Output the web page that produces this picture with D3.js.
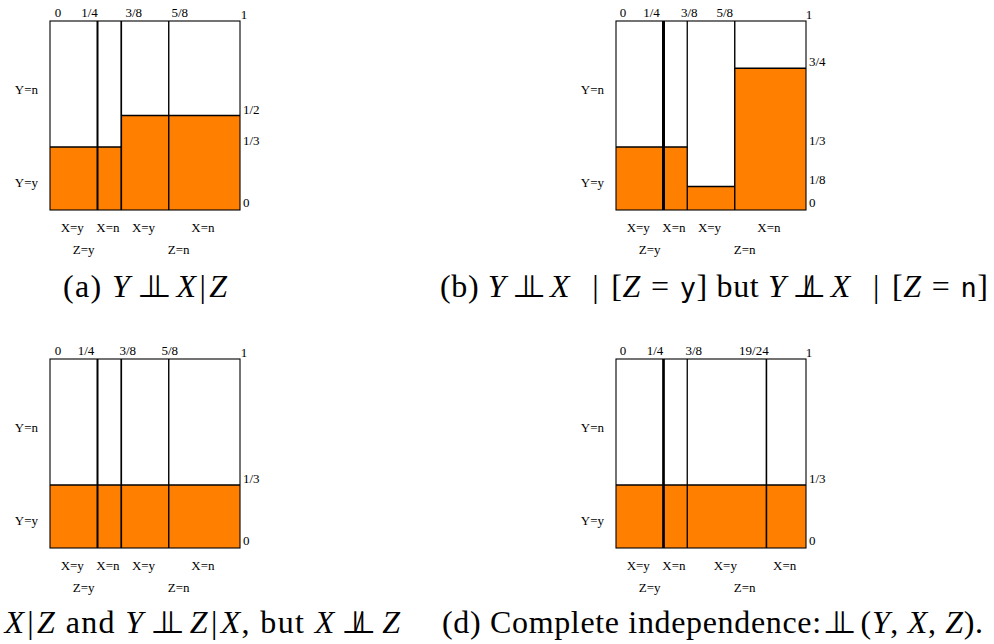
<!DOCTYPE html>
<html>
<head>
<meta charset="utf-8">
<script src="https://cdn.jsdelivr.net/npm/d3@7"></script>
<style>
    body { margin: 0; background: #fff; }
    svg text { font-family: "Liberation Serif", "Times New Roman", serif; fill: #000; }
</style>
</head>
<body>
<div id="chart"></div>
<script>

// ---- data ----
const columnBreaks = [
    [0, 1/4, 3/8, 5/8, 1],
    [0, 1/4, 3/8, 5/8, 1],
    [0, 1/4, 3/8, 5/8, 1],
    [0, 1/4, 3/8, 19/24, 1]
];
const columnTickLabels = [
    ['0', '1/4', '3/8', '5/8', '1'],
    ['0', '1/4', '3/8', '5/8', '1'],
    ['0', '1/4', '3/8', '5/8', '1'],
    ['0', '1/4', '3/8', '19/24', '1']
];
// share of Y=y inside each (X, Z) column
const yesShares = [
    [1/3, 1/3, 1/2, 1/2],
    [1/3, 1/3, 1/8, 3/4],
    [1/3, 1/3, 1/3, 1/3],
    [1/3, 1/3, 1/3, 1/3]
];
const yTickValues = [
    [0, 1/3, 1/2],
    [0, 1/8, 1/3, 3/4],
    [0, 1/3],
    [0, 1/3]
];
const yTickLabels = [
    ['0', '1/3', '1/2'],
    ['0', '1/8', '1/3', '3/4'],
    ['0', '1/3'],
    ['0', '1/3']
];
const xCategories = ['X=y', 'X=n', 'X=y', 'X=n'];
const zCategories = ['Z=y', 'Z=n'];
const zColumns = [[0, 2], [2, 4]];      // which column breaks each Z level spans
const yCategories = ['Y=n', 'Y=y'];

// ---- layout ----
const panelOrigins = [[50, 21], [616, 21], [50, 359], [616, 359]];
const tickDx = [
    [8, -8, 12.5, 11, 4],
    [7, -12, 2, -10, 3],
    [8, -11.5, 6.5, 1, 4],
    [7, -8.5, 6.5, -12.5, 3]
];
const dividerWidths = [
    [2, 1.7, 1.4],
    [3, 1.3, 1.4],
    [2, 1.7, 1.4],
    [2.7, 1.3, 1.6]
];
const yCategoryPos = [0.635, 0.143];

// captions as runs: rm = roman, it = math italic, tt = typewriter, perp / nperp = independence symbol
// a third entry is extra space (px) before the run
const captions = [
    {x: 63, y: 297, anchor: 'start', width: 164, runs: [['rm', '(a) '], ['it', 'Y'], ['perp'], ['it', 'X'], ['rm', '|', 2], ['it', 'Z', 2]]},
    {x: 440, y: 297, anchor: 'start', width: 548, runs: [['rm', '(b) '], ['it', 'Y'], ['perp'], ['it', 'X'], ['rm', '|', 22], ['rm', '[', 12], ['it', 'Z'],
        ['rm', '=', 10], ['tt', 'y', 10], ['rm', '] but '], ['it', 'Y'], ['nperp'], ['it', 'X'], ['rm', '|', 22], ['rm', '[', 12], ['it', 'Z'],
        ['rm', '=', 10], ['tt', 'n', 10], ['rm', ']']]},
    {x: 400, y: 633, anchor: 'end', width: 509, runs: [['rm', '(c) '], ['it', 'Y'], ['perp'], ['it', 'X'], ['rm', '|', 2], ['it', 'Z', 2],
        ['rm', ' and '], ['it', 'Y'], ['perp'], ['it', 'Z'], ['rm', '|', 2], ['it', 'X', 2], ['rm', ', but '], ['it', 'X'],
        ['nperp'], ['it', 'Z']]},
    {x: 442, y: 633, anchor: 'start', width: 541, runs: [['rm', '(d) Complete independence:'], ['perp', -5], ['rm', '('], ['it', 'Y'],
        ['rm', ', '], ['it', 'X'], ['rm', ', '], ['it', 'Z'], ['rm', ').']]}
];

/* * * * * * * * * * * * * *
*        MosaicPanel       *
* * * * * * * * * * * * * */

class MosaicPanel {

    constructor(svg, index) {
        this.svg = svg;
        this.index = index;
        this.orange = '#ff7f00';

        this.initVis();
    }

    initVis() {
        let vis = this;

        vis.width = 190;
        vis.height = 189;

        vis.g = vis.svg.append('g')
            .attr('transform', `translate(${panelOrigins[vis.index][0]}, ${panelOrigins[vis.index][1]})`);

        vis.x = d3.scaleLinear().domain([0, 1]).range([0, vis.width]);
        vis.y = d3.scaleLinear().domain([0, 1]).range([vis.height, 0]);

        vis.wrangleData();
    }

    wrangleData() {
        let vis = this;
        let breaks = columnBreaks[vis.index];

        vis.cells = xCategories.map((label, i) => ({
            x0: breaks[i],
            x1: breaks[i + 1],
            share: yesShares[vis.index][i],
            label: label
        }));

        vis.updateVis();
    }

    updateVis() {
        let vis = this;
        let breaks = columnBreaks[vis.index];

        // orange part (Y=y)
        vis.g.selectAll('.yes')
            .data(vis.cells)
            .enter().append('rect')
            .attr('class', 'yes')
            .attr('x', d => vis.x(d.x0))
            .attr('width', d => vis.x(d.x1) - vis.x(d.x0))
            .attr('y', d => vis.y(d.share))
            .attr('height', d => vis.y(0) - vis.y(d.share))
            .attr('fill', vis.orange);

        // boundary between Y=y and Y=n
        vis.g.selectAll('.split')
            .data(vis.cells)
            .enter().append('line')
            .attr('class', 'split')
            .attr('x1', d => vis.x(d.x0))
            .attr('x2', d => vis.x(d.x1))
            .attr('y1', d => vis.y(d.share))
            .attr('y2', d => vis.y(d.share))
            .attr('stroke', '#000')
            .attr('stroke-width', 1.5);

        // outer frame
        vis.g.append('rect')
            .attr('x', vis.x(0)).attr('y', vis.y(1))
            .attr('width', vis.x(1) - vis.x(0))
            .attr('height', vis.y(0) - vis.y(1))
            .attr('fill', 'none')
            .attr('stroke', '#000')
            .attr('stroke-width', 1.1);

        // column dividers
        vis.g.selectAll('.divider')
            .data(breaks.slice(1, -1))
            .enter().append('line')
            .attr('class', 'divider')
            .attr('x1', d => vis.x(d)).attr('x2', d => vis.x(d))
            .attr('y1', vis.y(0)).attr('y2', vis.y(1))
            .attr('stroke', '#000')
            .attr('stroke-width', (d, i) => dividerWidths[vis.index][i]);

        // top tick labels
        vis.g.selectAll('.xtick')
            .data(columnTickLabels[vis.index])
            .enter().append('text')
            .attr('class', 'xtick')
            .attr('x', (d, i) => vis.x(breaks[i]) + tickDx[vis.index][i])
            .attr('y', (d, i) => vis.y(1) - (i === breaks.length - 1 ? 2 : 4))
            .attr('text-anchor', 'middle')
            .attr('font-size', 13)
            .text(d => d);

        // right tick labels
        vis.g.selectAll('.ytick')
            .data(yTickValues[vis.index])
            .enter().append('text')
            .attr('class', 'ytick')
            .attr('x', vis.x(1) + 3)
            .attr('y', d => vis.y(d) - (d === 0 ? 3 : 2))
            .attr('font-size', 13)
            .text((d, i) => yTickLabels[vis.index][i]);

        // Y categories on the left
        vis.g.selectAll('.ycat')
            .data(yCategories)
            .enter().append('text')
            .attr('class', 'ycat')
            .attr('x', vis.x(0) - 12)
            .attr('y', (d, i) => vis.y(yCategoryPos[i]) + 4.5)
            .attr('text-anchor', 'end')
            .attr('font-size', 13)
            .text(d => d);

        // X categories below
        vis.g.selectAll('.xcat')
            .data(vis.cells)
            .enter().append('text')
            .attr('class', 'xcat')
            .attr('x', d => vis.x((d.x0 + d.x1) / 2) - 1.5)
            .attr('y', vis.y(0) + 21.5)
            .attr('text-anchor', 'middle')
            .attr('font-size', 13)
            .text(d => d.label);

        // Z categories below
        vis.g.selectAll('.zcat')
            .data(zCategories)
            .enter().append('text')
            .attr('class', 'zcat')
            .attr('x', (d, i) => vis.x((breaks[zColumns[i][0]] + breaks[zColumns[i][1]]) / 2) - 2)
            .attr('y', vis.y(0) + 44)
            .attr('text-anchor', 'middle')
            .attr('font-size', 13)
            .text(d => d);
    }
}

let svg = d3.select('#chart').append('svg')
    .attr('width', 994)
    .attr('height', 644);

columnBreaks.forEach((b, i) => new MosaicPanel(svg, i));

// captions, with TeX-like spacing around the independence symbol
captions.forEach(c => {
    let t = svg.append('text')
        .attr('x', c.x)
        .attr('y', c.y)
        .attr('text-anchor', c.anchor)
        .attr('font-size', 32)
        .style('white-space', 'pre');

    let pending = 0;
    c.runs.forEach(r => {
        if (r[0] === 'perp' || r[0] === 'nperp') {
            let p1 = t.append('tspan').attr('dx', pending + 6 + (r[1] || 0))
                .attr('font-family', 'DejaVu Sans').attr('font-size', 31).text('\u22A5');
            let w = p1.node().getComputedTextLength();
            t.append('tspan').attr('dx', -(w - 5.5))
                .attr('font-family', 'DejaVu Sans').attr('font-size', 31).text('\u22A5');
            pending = 4;
            if (r[0] === 'nperp') {
                let s = t.append('tspan').attr('font-size', 32).text('/');
                let ws = s.node().getComputedTextLength();
                s.attr('dx', -((w + 5.5) / 2 + ws / 2 + 2));
                pending = (w + 5.5) / 2 - ws / 2 + 6;
            }
        } else {
            let s = t.append('tspan').attr('dx', pending + (r[2] || 0)).text(r[1]);
            if (r[0] === 'it') s.attr('font-style', 'italic');
            if (r[0] === 'tt') s.attr('font-family', 'DejaVu Sans Mono').attr('font-size', 27);
            pending = 0;
        }
    });

    // only squeeze or stretch a little to hit the printed width
    let natural = t.node().getComputedTextLength();
    if (Math.abs(natural - c.width) > 2) {
        t.attr('textLength', c.width).attr('lengthAdjust', 'spacing');
    }
});

</script>
</body>
</html>
